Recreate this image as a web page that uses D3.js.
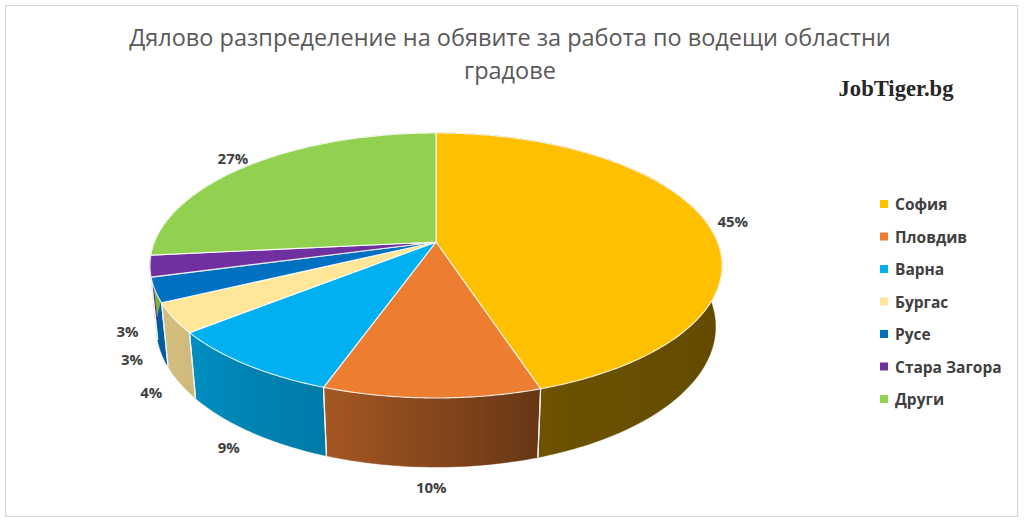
<!DOCTYPE html>
<html><head><meta charset="utf-8">
<script src="https://cdn.jsdelivr.net/npm/d3@7"></script>
<style>body{margin:0;background:#fff} svg{display:block}</style>
</head><body><svg id="c" width="1024" height="526"></svg>
<script>
const categories = ["София","Пловдив","Варна","Бургас","Русе","Стара Загора","Други"];
const shares = [45.0, 10.4, 8.8, 3.6, 3.0, 2.6, 26.6];
const colors = ["#FFC000","#ED7D31","#00B0F0","#FFE699","#0070C0","#7030A0","#92D050"];
const titleLines = ["Дялово разпределение на обявите за работа по водещи областни","градове"];
const brand = "JobTiger.bg";

const svg = d3.select("#c");
svg.append("rect").attr("x",5.5).attr("y",5.5).attr("width",1012).attr("height",511)
  .attr("fill","#fff").attr("stroke","#D9D9D9").attr("stroke-width",1.2);

// perspective projection of a flat cylinder (pie) viewed from above-front
const cx=436, cy=242, D=1, sA=0.4559, cA=Math.sqrt(1-sA*sA), R=0.1992, F=1413, H=0.0492;
function proj(phi, r, y){
  const x=r*Math.sin(phi), z=r*Math.cos(phi);
  const vx=x, vy=y-D*sA, vz=z+D*cA;
  const Y=vy*cA+vz*sA, Z=-vy*sA+vz*cA;
  return [cx+F*vx/Z, cy-F*Y/Z];
}
const total = d3.sum(shares);
const arcs = d3.pie().sort(null).value(d=>d)(shares);
const deg = a=>a*180/Math.PI;
const shade = d3.scaleLinear().domain([90,160,200,235,270]).range([0.37,0.42,0.70,0.82,0.86]).clamp(true);
function mult(c,m){const r=d3.rgb(c);return d3.rgb(r.r*m,r.g*m,r.b*m).formatHex();}
const defs = svg.append("defs");
const line = d3.line();

// side walls
const gWalls = svg.append("g");
const visLo = 100.2*Math.PI/180, visHi = 259.8*Math.PI/180;
arcs.forEach((a,i)=>{
  const n = Math.max(8, Math.ceil((a.endAngle-a.startAngle)/0.02));
  const top=[], bot=[];
  for(let j=0;j<=n;j++){const p=a.startAngle+(a.endAngle-a.startAngle)*j/n; top.push(proj(p,R,0)); bot.push(proj(p,R,-H));}
  const pts = top.concat(bot.reverse());
  const lo=Math.max(a.startAngle,visLo), hi=Math.min(a.endAngle,visHi);
  let fill;
  if(hi>lo){
    const id="wg"+i, xs=[];
    for(let j=0;j<=12;j++){const p=lo+(hi-lo)*j/12; xs.push([proj(p,R,0)[0],p]);}
    const xmin=d3.min(xs,d=>d[0]), xmax=d3.max(xs,d=>d[0]);
    const gr=defs.append("linearGradient").attr("id",id).attr("gradientUnits","userSpaceOnUse")
      .attr("x1",xmin).attr("x2",xmax).attr("y1",0).attr("y2",0);
    xs.sort((u,v)=>u[0]-v[0]).forEach(d=>gr.append("stop")
      .attr("offset",xmax>xmin?(d[0]-xmin)/(xmax-xmin):0)
      .attr("stop-color",mult(colors[i],shade(deg(d[1])))));
    fill=`url(#${id})`;
  } else fill=mult(colors[i],shade(deg((a.startAngle+a.endAngle)/2)));
  gWalls.append("path").attr("d",line(pts)+"Z").attr("fill",fill).attr("stroke",fill).attr("stroke-width",0.5);
});
// wall seams
arcs.forEach(a=>{
  [a.startAngle,a.endAngle].forEach(p=>{
    if(p>visLo && p<visHi){
      gWalls.append("path").attr("d",line([proj(p,R,0),proj(p,R,-H)]))
        .attr("stroke","#F2F2F2").attr("stroke-width",1.2).attr("fill","none");
    }
  });
});

// top faces
const gTop = svg.append("g");
arcs.forEach((a,i)=>{
  const n = Math.max(4, Math.ceil((a.endAngle-a.startAngle)/0.01));
  const pts=[proj(0,0,0)];
  for(let j=0;j<=n;j++){const p=a.startAngle+(a.endAngle-a.startAngle)*j/n; pts.push(proj(p,R,0));}
  gTop.append("path").attr("d",line(pts)+"Z").attr("fill",colors[i])
    .attr("stroke","#FFFFFF").attr("stroke-opacity",0.85).attr("stroke-width",1.1).attr("stroke-linejoin","round");
});

// data labels
const gLab = svg.append("g").attr("font-family","'Open Sans', 'Noto Sans', sans-serif")
  .attr("font-weight",700).attr("font-size",15).attr("fill","#404040");
arcs.forEach((a,i)=>{
  const mid=(a.startAngle+a.endAngle)/2;
  const p=proj(mid,R*1.1,Math.cos(mid)<0?-H:0);
  gLab.append("text").attr("x",p[0]).attr("y",p[1]).attr("text-anchor","middle")
    .attr("dominant-baseline","central").text(Math.round(shares[i]/total*100)+"%");
});

// legend
const leg = svg.append("g").attr("font-family","'Open Sans', 'Noto Sans', sans-serif")
  .attr("font-weight",700).attr("font-size",15.5).attr("fill","#404040");
const legY = d3.scalePoint().domain(categories).range([204,399]);
categories.forEach((c,i)=>{
  leg.append("rect").attr("x",880).attr("y",legY(c)-4).attr("width",8).attr("height",8).attr("fill",colors[i]);
  leg.append("text").attr("x",895).attr("y",legY(c)).attr("dominant-baseline","central").text(c);
});

// title
function fit(t, w){const l=t.node().getComputedTextLength(); const fs=parseFloat(t.attr("font-size")); t.attr("font-size",fs*w/l);}
const t1 = svg.append("text").attr("x",510).attr("y",46).attr("text-anchor","middle")
  .attr("font-family","'Open Sans', 'Noto Sans', sans-serif").attr("font-size",22).attr("fill","#595959").text(titleLines[0]);
fit(t1,762);
svg.append("text").attr("x",510).attr("y",79).attr("text-anchor","middle")
  .attr("font-family","'Open Sans', 'Noto Sans', sans-serif").attr("font-size",t1.attr("font-size")).attr("fill","#595959").text(titleLines[1]);
const b = svg.append("text").attr("x",896).attr("y",96).attr("text-anchor","middle")
  .attr("font-family","'Liberation Serif', 'DejaVu Serif', serif").attr("font-weight",700).attr("font-size",18).attr("fill","#262626").text(brand);
fit(b,115);
</script></body></html>
